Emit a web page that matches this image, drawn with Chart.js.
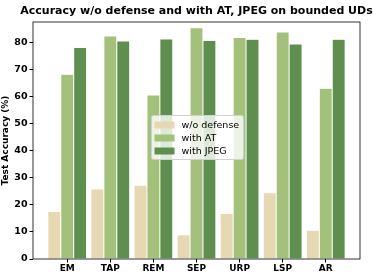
<!DOCTYPE html>
<html>
<head>
<meta charset="utf-8">
<script src="https://cdn.jsdelivr.net/npm/chart.js@4/dist/chart.umd.min.js"></script>
<style>
  html, body { margin: 0; padding: 0; background: #fff; }
  #wrap { width: 373px; height: 275px; }
</style>
</head>
<body>
<div id="wrap"><canvas id="myChart" width="373" height="275"></canvas></div>
<script>
// attack names along the x axis
var attacks = ['EM', 'TAP', 'REM', 'SEP', 'URP', 'LSP', 'AR'];
var seriesNames = ['w/o defense', 'with AT', 'with JPEG'];
var noDefense = [17.6, 25.9, 27.3, 9.0, 16.8, 24.5, 10.6];
var withAT = [68.3, 82.4, 60.6, 85.5, 81.9, 83.9, 63.1];
var withJPEG = [78.2, 80.6, 81.3, 80.8, 81.2, 79.5, 81.2];
var yTicks = [0, 10, 20, 30, 40, 50, 60, 70, 80];
var titleText = 'Accuracy w/o defense and with AT, JPEG on bounded UDs';

var colors = ['#e6d8b2', '#a3c17a', '#5f8f4e'];
var FONT = "'DejaVu Sans', sans-serif";

function points(values) {
    return values.map(function (v, i) { return { x: i, y: v }; });
}

// axes frame, title over the axes, and legend inside the plot (matplotlib style)
var framePlugin = {
    id: 'frame',
    afterDraw: function (chart) {
        var a = chart.chartArea;
        var ctx = chart.ctx;
        ctx.save();
        ctx.strokeStyle = '#000';
        ctx.lineWidth = 0.8;
        ctx.strokeRect(a.left, a.top, a.right - a.left, a.bottom - a.top);

        ctx.fillStyle = '#000';
        ctx.font = 'bold 11px ' + FONT;
        ctx.textAlign = 'center';
        ctx.textBaseline = 'middle';
        ctx.fillText(titleText, (a.left + a.right) / 2, 11);

        // legend box
        var w = 92, h = 44;
        var cx = (a.left + a.right) / 2, cy = (a.top + a.bottom) / 2 - 3.5;
        var x0 = Math.round(cx - w / 2) + 0.5, y0 = Math.round(cy - h / 2) + 0.5;
        ctx.fillStyle = 'rgba(255,255,255,0.8)';
        ctx.strokeStyle = '#d0d0d0';
        ctx.lineWidth = 1;
        ctx.beginPath();
        ctx.roundRect(x0, y0, w, h, 2);
        ctx.fill();
        ctx.stroke();
        ctx.font = '9.5px ' + FONT;
        ctx.textAlign = 'left';
        for (var i = 0; i < seriesNames.length; i++) {
            var ry = y0 + 9.5 + i * 13;
            ctx.fillStyle = colors[i];
            ctx.fillRect(x0 + 3, ry - 3.5, 20, 7);
            ctx.fillStyle = '#000';
            ctx.fillText(seriesNames[i], x0 + 30, ry + 0.5);
        }
        ctx.restore();
    }
};

var ctx = document.getElementById('myChart').getContext('2d');
var chart = new Chart(ctx, {
    type: 'bar',
    data: {
        datasets: [
            { label: seriesNames[0], data: points(noDefense), backgroundColor: colors[0] },
            { label: seriesNames[1], data: points(withAT), backgroundColor: colors[1] },
            { label: seriesNames[2], data: points(withJPEG), backgroundColor: colors[2] }
        ]
    },
    options: {
        responsive: false,
        animation: false,
        layout: { padding: { left: 0, right: 13, top: 22, bottom: 0 } },
        datasets: {
            bar: {
                categoryPercentage: 0.9,
                barPercentage: 1.0,
                borderColor: 'rgba(255,255,255,0.4)',
                borderWidth: 0.5
            }
        },
        plugins: {
            legend: { display: false },
            tooltip: { enabled: false },
            title: { display: false }
        },
        scales: {
            x: {
                type: 'linear',
                offset: false,
                min: -0.795,
                max: 6.795,
                afterBuildTicks: function (axis) {
                    axis.ticks = attacks.map(function (_, i) { return { value: i }; });
                },
                afterFit: function (axis) { axis.height = 16; },
                ticks: {
                    autoSkip: false,
                    maxRotation: 0,
                    padding: 1,
                    color: '#000',
                    font: { family: FONT, size: 9, weight: 'bold' },
                    callback: function (v) { return attacks[v]; }
                },
                grid: { offset: false, drawOnChartArea: false, tickLength: 3.5, color: '#000' },
                border: { display: false }
            },
            y: {
                min: 0,
                max: 87.6,
                afterBuildTicks: function (axis) {
                    axis.ticks = yTicks.map(function (v) { return { value: v }; });
                },
                afterFit: function (axis) { axis.width = 33; },
                ticks: {
                    padding: 2,
                    color: '#000',
                    font: { family: FONT, size: 9.5, weight: 'bold' }
                },
                grid: { drawOnChartArea: false, tickLength: 3.5, color: '#000' },
                border: { display: false },
                title: {
                    display: true,
                    text: 'Test Accuracy (%)',
                    color: '#000',
                    font: { family: FONT, size: 9, weight: 'bold' },
                    padding: 0
                }
            }
        }
    },
    plugins: [framePlugin]
});
</script>
</body>
</html>
